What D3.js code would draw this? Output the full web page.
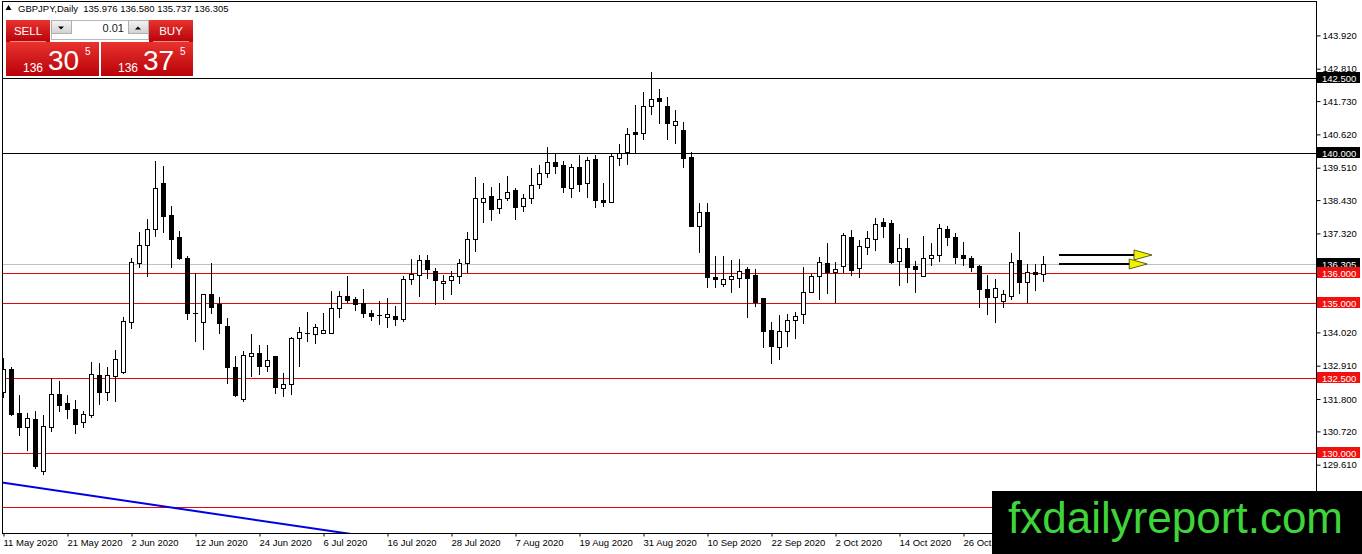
<!DOCTYPE html>
<html lang="en">
<head>
	<meta charset="UTF-8">
	<title>GBPJPY, Daily</title>
	<style>
		html, body {
			margin: 0;
			background: #fff;
			overflow: hidden;
		}
		svg {
			display: block;
		}
		text {
			font-family: 'Liberation Sans', Arial, sans-serif;
		}
	</style>
	<script src="https://d3js.org/d3.v7.min.js"></script>
	<script>
		// one candle per trading day, starting 11 May 2020
		const firstDay = new Date(2020, 4, 11);
		const opens = [
			132.04, 132.80, 131.32, 130.88, 131.13, 129.41, 130.88, 131.96, 131.66, 131.47,
			131.02, 131.27, 132.60, 132.04, 132.58, 132.71, 134.38, 136.34, 136.92, 137.46,
			139.01, 137.93, 137.19, 136.49, 134.68, 134.38, 135.29, 134.97, 134.23, 132.87,
			131.81, 133.24, 133.34, 132.91, 133.23, 132.18, 132.29, 133.82, 133.99, 133.96,
			133.99, 134.01, 134.82, 135.23, 135.13, 135.01, 134.67, 134.61, 134.52, 134.57,
			134.47, 135.79, 135.92, 136.42, 136.06, 135.66, 135.76, 135.90, 136.32, 137.12,
			138.38, 138.57, 138.16, 138.51, 138.77, 138.24, 138.49, 138.96, 139.32, 139.69,
			139.59, 138.82, 139.53, 138.99, 139.80, 138.43, 138.38, 139.84, 140.02, 140.70,
			140.66, 141.56, 141.82, 141.57, 140.92, 140.77, 139.88, 137.58, 138.04, 135.86,
			135.62, 135.79, 135.82, 136.13, 135.93, 135.16, 134.10, 133.54, 134.07, 134.43,
			134.62, 135.38, 135.90, 136.34, 136.02, 136.23, 137.19, 136.16, 136.88, 137.13,
			137.69, 137.66, 136.41, 136.82, 136.23, 135.91, 136.49, 136.60, 137.46, 137.19,
			136.60, 136.49, 136.24, 135.46, 135.19, 135.07, 135.24, 136.43, 135.71, 136.02,
			135.976
		];
		const highs = [
			133.17, 132.88, 131.93, 131.32, 131.40, 131.27, 132.51, 132.40, 131.93, 131.77,
			131.40, 133.04, 133.01, 132.86, 133.43, 134.54, 136.51, 137.36, 137.80, 139.73,
			139.58, 138.23, 137.40, 136.57, 136.01, 135.30, 136.32, 135.21, 134.49, 133.23,
			133.40, 133.97, 133.60, 133.60, 133.23, 132.66, 133.86, 134.19, 134.69, 134.29,
			134.66, 135.41, 135.40, 135.90, 135.21, 135.46, 134.77, 135.07, 135.16, 134.90,
			135.90, 136.46, 136.60, 136.60, 136.18, 135.93, 136.07, 136.47, 137.36, 139.19,
			139.01, 138.88, 139.01, 139.24, 138.84, 138.63, 139.51, 139.60, 140.19, 139.97,
			139.74, 139.63, 139.93, 139.86, 139.93, 139.01, 139.96, 140.30, 140.82, 141.60,
			142.03, 142.71, 142.12, 141.88, 141.43, 141.04, 140.04, 138.34, 138.32, 136.57,
			136.57, 136.43, 136.46, 136.21, 136.13, 135.16, 134.36, 134.60, 134.62, 134.71,
			136.21, 135.97, 136.52, 137.01, 136.38, 137.34, 137.43, 137.10, 137.40, 137.82,
			137.82, 137.77, 137.30, 137.16, 136.40, 137.23, 136.99, 137.63, 137.58, 137.32,
			137.04, 136.57, 136.27, 135.93, 135.80, 135.43, 136.68, 137.36, 136.30, 136.30,
			136.580
		];
		const lows = [
			131.87, 131.27, 130.60, 130.10, 129.49, 129.30, 130.74, 131.41, 131.18, 130.66,
			130.88, 131.21, 131.62, 131.77, 131.74, 132.68, 134.18, 136.21, 135.90, 137.23,
			137.38, 136.19, 136.46, 134.46, 133.74, 133.47, 134.66, 134.01, 132.34, 131.90,
			131.74, 132.57, 132.63, 132.73, 131.99, 131.90, 131.96, 132.90, 133.74, 133.68,
			133.99, 134.01, 134.54, 135.04, 134.75, 134.54, 134.43, 134.30, 134.20, 134.25,
			134.40, 135.63, 135.24, 135.82, 134.96, 135.12, 135.29, 135.66, 136.02, 136.74,
			137.71, 137.77, 138.01, 138.43, 137.80, 138.08, 138.32, 138.84, 139.21, 139.32,
			138.71, 138.54, 138.74, 138.54, 138.21, 138.24, 138.38, 139.60, 139.63, 139.99,
			140.47, 141.29, 140.99, 140.46, 140.32, 139.54, 137.58, 136.71, 135.54, 135.54,
			135.57, 135.38, 135.52, 134.54, 134.91, 133.52, 133.01, 133.12, 133.58, 133.82,
			134.32, 135.38, 135.14, 135.32, 135.02, 136.04, 135.93, 135.88, 136.63, 136.77,
			137.19, 136.34, 135.60, 135.71, 135.38, 135.91, 136.27, 136.40, 136.93, 136.32,
			136.27, 136.08, 134.86, 134.62, 134.38, 134.86, 135.12, 135.34, 135.04, 135.43,
			135.737
		];
		const closes = [
			132.80, 131.30, 130.88, 131.18, 129.58, 130.90, 131.96, 131.60, 131.48, 130.97,
			131.29, 132.62, 132.04, 132.60, 133.12, 134.39, 136.36, 136.92, 137.46, 138.82,
			137.91, 137.12, 136.49, 134.66, 134.65, 135.29, 134.88, 134.32, 132.88, 131.93,
			133.27, 133.34, 132.91, 133.10, 132.21, 132.29, 133.82, 134.04, 134.00, 134.19,
			134.09, 134.82, 135.23, 135.10, 134.96, 134.66, 134.58, 134.60, 134.63, 134.47,
			135.79, 135.96, 136.42, 136.12, 135.77, 135.72, 135.89, 136.32, 137.12, 138.49,
			138.49, 138.13, 138.46, 138.69, 138.21, 138.49, 138.92, 139.32, 139.69, 139.57,
			138.88, 139.52, 138.96, 139.77, 138.43, 138.38, 139.90, 139.99, 140.63, 140.62,
			141.57, 141.80, 141.74, 140.99, 141.07, 139.84, 137.58, 138.03, 135.86, 135.81,
			135.79, 135.90, 136.07, 135.84, 135.04, 134.08, 133.58, 134.07, 134.43, 134.57,
			135.36, 135.90, 136.36, 136.04, 136.12, 137.27, 136.11, 136.90, 137.16, 137.63,
			137.58, 136.38, 136.82, 136.21, 136.12, 136.49, 136.60, 137.49, 137.19, 136.52,
			136.49, 136.21, 135.46, 135.19, 135.49, 135.29, 136.38, 135.71, 136.02, 135.976,
			136.305
		];

		// right price scale
		const priceTicks = [143.92, 142.81, 141.73, 140.62, 139.51, 138.43, 137.32, 134.02, 132.91, 131.80, 130.72, 129.61];
		const blackLevels = [142.5, 140.0];
		const redLevels = [136.0, 135.0, 132.5, 130.0, 128.2];
		const bidPrice = 136.305;
		const headerText = 'GBPJPY,Daily  135.976 136.580 135.737 136.305';

		// trendline (bar index, price) and the two arrows on the right
		const trendBars = [0, 42.5];
		const trendPrices = [129.01, 127.34];
		const arrowBars = [[132, 141.5], [132, 140.9]];
		const arrowPrices = [136.6, 136.3];

		// one-click trading panel quotes
		const sellQuote = ['136', '30', '5'];
		const buyQuote = ['136', '37', '5'];
		const lotSize = '0.01';

		window.addEventListener('load', function() {
			const config = {
				width: 1362,
				height: 554,
				plot: { left: 2, right: 1316, top: 1, bottom: 533 },
				candleWidth: 4,
				redLine: '#e00808',
				redLabel: '#f01010',
				trend: '#0000e6',
				arrowFill: '#f2f200',
				font: 9.5,
				watermark: { x: 992, y: 491 },
			};
			const p = config.plot;
			const wm = config.watermark;

			const svg = d3.select('#container')
				.attr('width', config.width)
				.attr('height', config.height);

			const defs = svg.append('defs');
			defs.append('clipPath').attr('id', 'plot-clip')
				.append('rect')
				.attr('x', p.left).attr('y', p.top)
				.attr('width', p.right - p.left).attr('height', p.bottom - p.top);
			// time labels stop where the watermark box begins
			defs.append('clipPath').attr('id', 'time-clip')
				.append('rect')
				.attr('x', 0).attr('y', p.bottom)
				.attr('width', wm.x).attr('height', config.height - p.bottom);

			const redGrad = defs.append('linearGradient').attr('id', 'red-grad')
				.attr('x1', 0).attr('y1', 0).attr('x2', 0).attr('y2', 1);
			redGrad.append('stop').attr('offset', '0%').attr('stop-color', '#e8332f');
			redGrad.append('stop').attr('offset', '100%').attr('stop-color', '#b80208');
			const grayGrad = defs.append('linearGradient').attr('id', 'gray-grad')
				.attr('x1', 0).attr('y1', 0).attr('x2', 0).attr('y2', 1);
			grayGrad.append('stop').attr('offset', '0%').attr('stop-color', '#f4f4f4');
			grayGrad.append('stop').attr('offset', '100%').attr('stop-color', '#d2d2d2');

			// scales: bar index -> x, price -> y
			const x = d3.scaleLinear().domain([0, 130]).range([3, 1043]);
			const y = d3.scaleLinear().domain([127.3333, 145.1]).range([p.bottom, 0]);
			const crisp = v => Math.round(v) + 0.5;

			const days = d3.timeDay.range(firstDay, new Date(2020, 11, 31))
				.filter(d => d.getDay() !== 0 && d.getDay() !== 6)
				.slice(0, opens.length);
			const candles = days.map((d, i) => ({
				i, date: d, o: opens[i], h: highs[i], l: lows[i], c: closes[i],
			}));

			const plot = svg.append('g').attr('clip-path', 'url(#plot-clip)');

			// horizontal levels sit behind the candles
			plot.selectAll('line.bid')
				.data([bidPrice])
				.enter().append('line')
				.attr('class', 'bid')
				.attr('x1', p.left).attr('x2', p.right)
				.attr('y1', d => crisp(y(d))).attr('y2', d => crisp(y(d)))
				.attr('stroke', '#c0c0c0');
			plot.selectAll('line.red')
				.data(redLevels)
				.enter().append('line')
				.attr('class', 'red')
				.attr('x1', p.left).attr('x2', p.right)
				.attr('y1', d => crisp(y(d))).attr('y2', d => crisp(y(d)))
				.attr('stroke', config.redLine);
			plot.selectAll('line.black')
				.data(blackLevels)
				.enter().append('line')
				.attr('class', 'black')
				.attr('x1', p.left).attr('x2', p.right)
				.attr('y1', d => crisp(y(d))).attr('y2', d => crisp(y(d)))
				.attr('stroke', '#000');

			// trendline, extended as a ray and clipped to the plot
			const slope = (trendPrices[1] - trendPrices[0]) / (trendBars[1] - trendBars[0]);
			plot.append('line')
				.attr('x1', x(-5)).attr('y1', y(trendPrices[0] - 5 * slope))
				.attr('x2', x(80)).attr('y2', y(trendPrices[0] + 80 * slope))
				.attr('stroke', config.trend)
				.attr('stroke-width', 2);

			// candles
			const g = plot.selectAll('g.candle')
				.data(candles)
				.enter().append('g')
				.attr('class', 'candle');
			g.append('line')
				.attr('x1', d => x(d.i) + 0.5).attr('x2', d => x(d.i) + 0.5)
				.attr('y1', d => Math.round(y(d.h))).attr('y2', d => Math.round(y(d.l)) + 1)
				.attr('stroke', '#000');
			g.append('rect')
				.attr('x', d => x(d.i) - 1.5)
				.attr('y', d => crisp(y(Math.max(d.o, d.c))))
				.attr('width', config.candleWidth)
				.attr('height', d => Math.max(0.01, Math.round(y(Math.min(d.o, d.c))) - Math.round(y(Math.max(d.o, d.c)))))
				.attr('fill', d => d.c >= d.o ? '#fff' : '#000')
				.attr('stroke', '#000');

			// arrows
			const arrows = arrowPrices.map((price, k) => ({ price, from: arrowBars[k][0], to: arrowBars[k][1] }));
			const ag = svg.selectAll('g.arrow')
				.data(arrows)
				.enter().append('g')
				.attr('class', 'arrow');
			ag.append('line')
				.attr('x1', d => x(d.from)).attr('x2', d => x(d.to))
				.attr('y1', d => y(d.price)).attr('y2', d => y(d.price))
				.attr('stroke', '#000')
				.attr('stroke-width', 2.2);
			ag.append('path')
				.attr('d', d => {
					const bx = x(d.to) - 1, by = y(d.price);
					return `M${bx},${by - 5}L${bx + 18},${by}L${bx},${by + 5}Z`;
				})
				.attr('fill', config.arrowFill)
				.attr('stroke', '#3a3a00')
				.attr('stroke-width', 0.8);

			// frame
			svg.append('rect')
				.attr('x', p.left + 0.5).attr('y', p.top + 0.5)
				.attr('width', p.right - p.left).attr('height', p.bottom - p.top)
				.attr('fill', 'none')
				.attr('stroke', '#000');

			// price axis
			const yAxis = d3.axisRight(y)
				.tickValues(priceTicks)
				.tickFormat(d3.format('.3f'))
				.tickSize(4)
				.tickPadding(2);
			const ya = svg.append('g')
				.attr('transform', `translate(${p.right + 0.5},0)`)
				.call(yAxis);
			ya.select('.domain').remove();
			ya.selectAll('text').attr('font-size', config.font).attr('fill', '#000')
				.attr('font-family', "'Liberation Sans', Arial, sans-serif");
			ya.selectAll('line').attr('stroke', '#000');

			// highlighted price labels (the one under the watermark is not shown)
			const tags = [
				...blackLevels.map(v => ({ v, bg: '#000' })),
				{ v: bidPrice, bg: '#000' },
				...redLevels.map(v => ({ v, bg: config.redLabel })),
			].filter(d => y(d.v) < wm.y - 6);
			const tg = svg.selectAll('g.tag')
				.data(tags)
				.enter().append('g')
				.attr('class', 'tag')
				.attr('transform', d => `translate(${p.right + 1},${Math.round(y(d.v))})`);
			tg.append('rect')
				.attr('x', 0).attr('y', -6)
				.attr('width', 43).attr('height', 11)
				.attr('fill', d => d.bg);
			tg.append('text')
				.attr('x', 5).attr('y', 3.5)
				.attr('font-size', config.font)
				.attr('fill', '#fff')
				.text(d => d3.format('.3f')(d.v));

			// time axis, a label every 8 bars
			const fmt = d3.timeFormat('%-d %b %Y');
			const xAxis = d3.axisBottom(x)
				.tickValues(candles.filter(d => d.i % 8 === 0 && x(d.i) < wm.x).map(d => d.i))
				.tickFormat(i => fmt(days[i]))
				.tickSize(3)
				.tickPadding(3);
			const xa = svg.append('g')
				.attr('clip-path', 'url(#time-clip)')
				.append('g')
				.attr('transform', `translate(0.5,${p.bottom + 0.5})`)
				.call(xAxis);
			xa.select('.domain').remove();
			xa.selectAll('line').attr('stroke', '#000');
			xa.selectAll('text')
				.attr('text-anchor', 'start')
				.attr('dx', -0.5)
				.attr('font-size', config.font)
				.attr('fill', '#000')
				.attr('font-family', "'Liberation Sans', Arial, sans-serif");

			// header line
			svg.append('path')
				.attr('d', 'M5.5,10L8.5,5L11.5,10Z')
				.attr('fill', '#000');
			svg.append('text')
				.attr('x', 18).attr('y', 12)
				.attr('font-size', config.font)
				.attr('fill', '#000')
				.attr('xml:space', 'preserve')
				.text(headerText);

			// one-click trading panel
			const panel = svg.append('g').attr('font-family', 'Roboto, sans-serif');
			const buttons = [
				{ label: 'SELL', x0: 6, x1: 50, quote: sellQuote, bx0: 6, bx1: 99 },
				{ label: 'BUY', x0: 149, x1: 193, quote: buyQuote, bx0: 101, bx1: 193 },
			];
			buttons.forEach(b => {
				panel.append('rect')
					.attr('x', b.x0).attr('y', 20).attr('width', b.x1 - b.x0).attr('height', 22)
					.attr('fill', 'url(#red-grad)');
				panel.append('line')
					.attr('x1', b.x0 + 4).attr('x2', b.x1 - 4).attr('y1', 41.5).attr('y2', 41.5)
					.attr('stroke', '#f5b0b0').attr('stroke-width', 0.8);
				panel.append('text')
					.attr('x', (b.x0 + b.x1) / 2).attr('y', 35)
					.attr('text-anchor', 'middle')
					.attr('font-size', 11.5)
					.attr('fill', '#fff')
					.text(b.label);
				panel.append('rect')
					.attr('x', b.bx0).attr('y', 42).attr('width', b.bx1 - b.bx0).attr('height', 34)
					.attr('fill', 'url(#red-grad)');
				panel.append('text')
					.attr('x', b.bx0 + 17).attr('y', 72)
					.attr('font-size', 12)
					.attr('fill', '#fff')
					.text(b.quote[0]);
				panel.append('text')
					.attr('x', b.bx0 + 42).attr('y', 70)
					.attr('font-size', 28)
					.attr('fill', '#fff')
					.text(b.quote[1]);
				panel.append('text')
					.attr('x', b.bx0 + 79).attr('y', 55)
					.attr('font-size', 10)
					.attr('fill', '#fff')
					.text(b.quote[2]);
			});

			// lot size spinner
			panel.append('rect')
				.attr('x', 51.5).attr('y', 20.5).attr('width', 97).attr('height', 19)
				.attr('fill', '#fff').attr('stroke', '#b8b8b8');
			[[51.5, 'M58,26.5L64,26.5L61,29.5Z'], [128.5, 'M135,29.5L141,29.5L138,26.5Z']].forEach(([bx, tri]) => {
				panel.append('rect')
					.attr('x', bx).attr('y', 20.5).attr('width', 20).attr('height', 13)
					.attr('fill', 'url(#gray-grad)').attr('stroke', '#b0b0b0');
				panel.append('path').attr('d', tri).attr('fill', '#000');
			});
			panel.append('text')
				.attr('x', 124).attr('y', 32)
				.attr('text-anchor', 'end')
				.attr('font-size', 11)
				.attr('fill', '#222')
				.text(lotSize);

			// watermark
			svg.append('rect')
				.attr('x', wm.x).attr('y', wm.y).attr('width', config.width - wm.x).attr('height', config.height - wm.y)
				.attr('fill', '#000');
			svg.append('text')
				.attr('x', 1008).attr('y', 533)
				.attr('font-size', 44)
				.attr('fill', '#3ed43a')
				.text('fxdailyreport.com');
		});
	</script>
</head>
<body>
	<svg id="container"></svg>
</body>
</html>
